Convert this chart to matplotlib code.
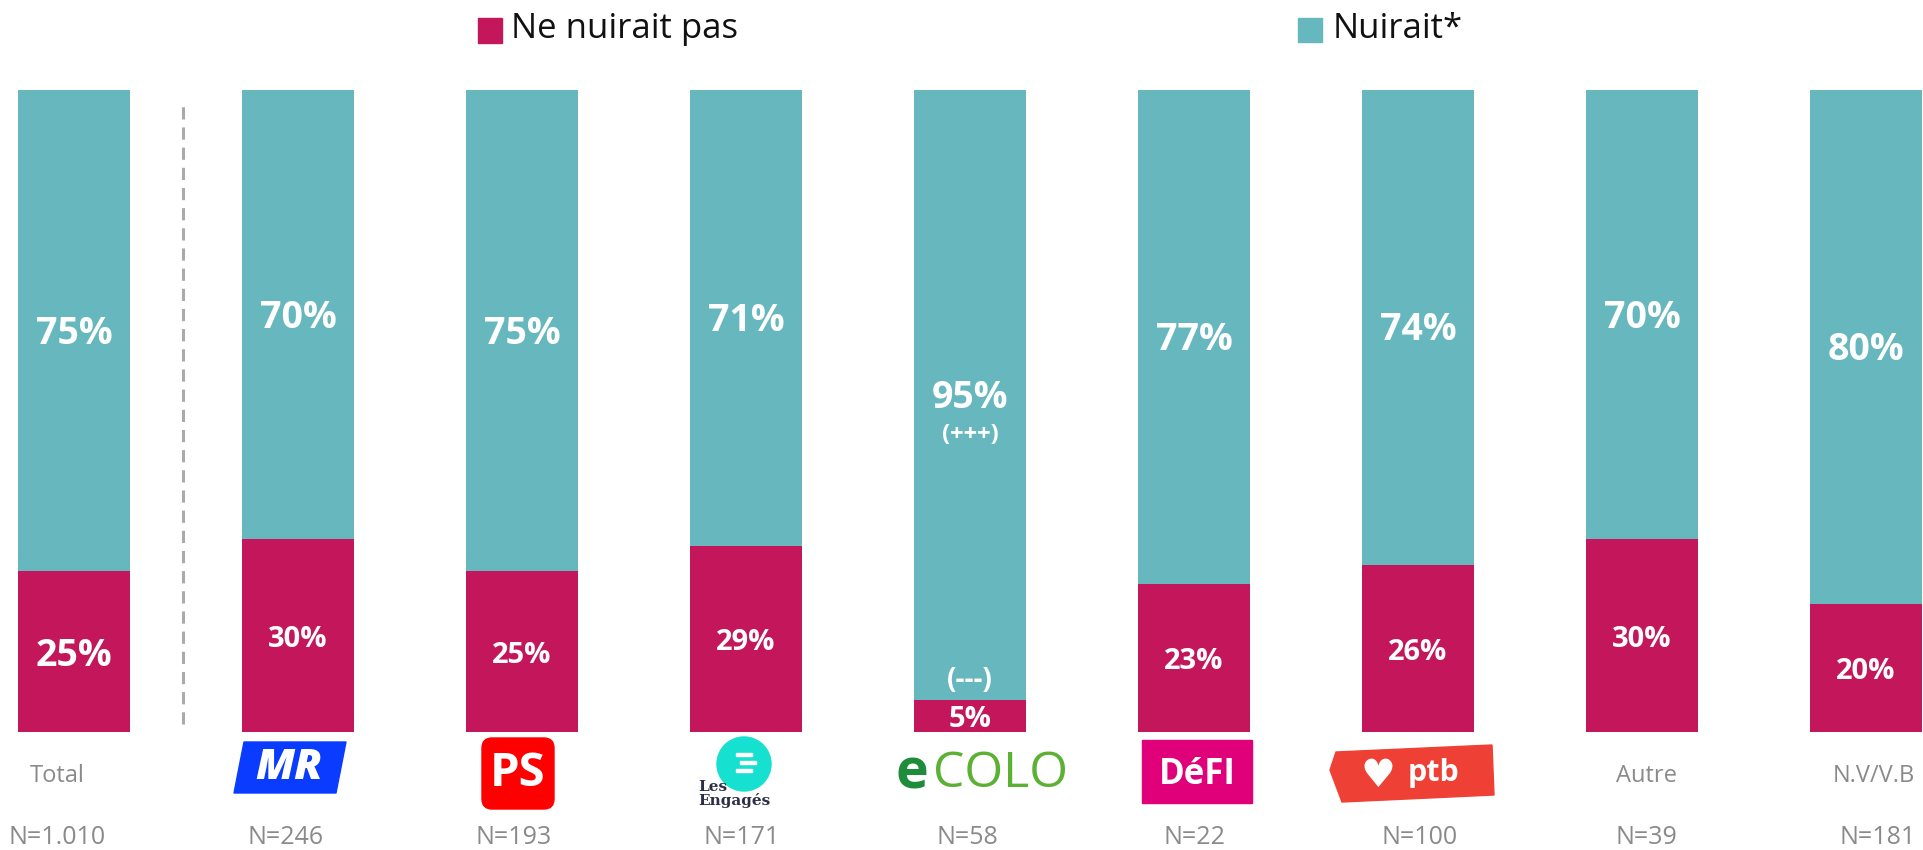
import matplotlib
matplotlib.use("Agg")
import matplotlib.pyplot as plt
from matplotlib.patches import Rectangle, FancyBboxPatch, Polygon, Ellipse
import numpy as np

plt.rcParams['font.family'] = ['Open Sans', 'DejaVu Sans']

# données
categories = ['Total', 'MR', 'PS', 'Les Engagés', 'Ecolo', 'DéFI', 'PTB', 'Autre', 'N.V/V.B']
n_labels = ['N=1.010', 'N=246', 'N=193', 'N=171', 'N=58', 'N=22', 'N=100', 'N=39', 'N=181']
ne_nuirait_pas = [25, 30, 25, 29, 5, 23, 26, 30, 20]
nuirait = [75, 70, 75, 71, 95, 77, 74, 70, 80]

MAGENTA = '#C4165A'
TEAL = '#67B8BE'
GRIS = '#8A8A8A'

W, H = 1923, 850
fig = plt.figure(figsize=(W / 100, H / 100), dpi=100)

# axe principal : barres empilées (1 unité x = 224 px, 100% = 642.5 px)
ax = fig.add_axes([0, 118 / H, 1, 642.5 / H])
x = np.arange(len(categories))
ax.bar(x, ne_nuirait_pas, width=0.496, color=MAGENTA)
ax.bar(x, nuirait, width=0.496, bottom=ne_nuirait_pas, color=TEAL)
ax.set_xlim(-74 / 224, (W - 74) / 224)
ax.set_ylim(0, 100)
ax.axis('off')

# séparateur Total / partis
ax.axvline(0.487, ymin=0.012, ymax=0.984, color='#AAAAAA', lw=2.2,
           linestyle=(0, (4, 2.6)))

# étiquettes de valeurs
for i, (a, b) in enumerate(zip(ne_nuirait_pas, nuirait)):
    size_a = 27 if i == 0 else 21
    ax.text(i, a + b / 2 - 0.5, f'{b}%', ha='center', va='center', color='white',
            fontsize=27, fontweight='bold')
    ax.text(i, a / 2 - 0.6, f'{a}%', ha='center', va='center', color='white',
            fontsize=size_a, fontweight='bold')

# signes de significativité (Ecolo)
i_eco = categories.index('Ecolo')
ax.text(i_eco, ne_nuirait_pas[i_eco] + nuirait[i_eco] / 2 - 6.3, '(+++)', ha='center',
        va='center', color='white', fontsize=17, fontweight='bold')
ax.text(i_eco, ne_nuirait_pas[i_eco] + 3.0, '(---)', ha='center', va='center',
        color='white', fontsize=20, fontweight='bold')

# calque en pixels (origine en haut à gauche) pour légende, logos et effectifs
ov = fig.add_axes([0, 0, 1, 1])
ov.set_xlim(0, W)
ov.set_ylim(H, 0)
ov.axis('off')


def bar_px(i):
    return ax.transData.transform((i, 0))[0]


# légende
ov.add_patch(Rectangle((478, 18), 24, 25, color=MAGENTA))
ov.text(511, 29, 'Ne nuirait pas', fontsize=25, va='center', color='#111111')
ov.add_patch(Rectangle((1298, 18), 24, 24, color=TEAL))
ov.text(1333, 29, 'Nuirait*', fontsize=25, va='center', color='#111111')

# effectifs
n_shift = [-17, -12, -8, -4, -3, 0, 2, 4, 12]
for i, lab in enumerate(n_labels):
    ov.text(bar_px(i) + n_shift[i], 838, lab, ha='center', va='center',
            fontsize=18, color=GRIS)

# libellés texte
ov.text(bar_px(0) - 17, 776, 'Total', ha='center', va='center', fontsize=17, color=GRIS)
ov.text(bar_px(7) + 4, 776, 'Autre', ha='center', va='center', fontsize=17, color=GRIS)
ov.text(bar_px(8) + 8, 776, 'N.V/V.B', ha='center', va='center', fontsize=17, color=GRIS)

# logo MR
c = bar_px(1) - 8
ov.add_patch(Polygon([(c - 46, 742), (c + 56, 742), (c + 46, 793), (c - 56, 793)],
                     closed=True, color='#0A3CFF', joinstyle='round'))
ov.text(c - 1, 768, 'MR', ha='center', va='center', fontsize=31, color='white',
        fontweight='heavy', fontstyle='italic')

# logo PS
c = bar_px(2) - 4
ov.add_patch(FancyBboxPatch((c - 30, 744), 60, 59, boxstyle='round,pad=6,rounding_size=10',
                            color='#FF0000'))
ov.text(c, 773, 'PS', ha='center', va='center', fontsize=34, color='white',
        fontweight='bold')

# logo Les Engagés
c = bar_px(3) - 2
ov.add_patch(Ellipse((c, 764), 54, 54, color='#16E0CF'))
for k, dy in enumerate([-8, 0, 8]):
    ov.add_patch(Rectangle((c - 8 + (4 if k == 1 else 0), 762 + dy - 1.5), 16, 3,
                           color='white'))
ov.text(c - 46, 794, 'Les\nEngagés', ha='left', va='center', fontsize=11,
        color='#2A2F45', fontweight='bold', family=['DejaVu Serif'], linespacing=0.95)

# logo Ecolo
c = bar_px(4) + 8
ov.text(c - 66, 774, 'e', ha='center', va='center', fontsize=40, color='#1E8C3A',
        fontweight='bold')
ov.text(c + 22, 774, 'COLO', ha='center', va='center', fontsize=36, color='#5CB135')

# logo DéFI
c = bar_px(5) + 3
ov.add_patch(Rectangle((c - 55, 740), 110, 63, color='#E0007A'))
ov.text(c, 775, 'DéFI', ha='center', va='center', fontsize=25, color='white',
        fontweight='bold')

# logo PTB
c = bar_px(6) - 6
ov.add_patch(Polygon([(c - 76, 752), (c + 80, 745), (c + 82, 795), (c - 70, 802),
                      (c - 82, 770)], closed=True, color='#EE4035'))
ov.text(c - 34, 776, '♥', ha='center', va='center', fontsize=28, color='white',
        family=['DejaVu Sans'])
ov.text(c + 22, 773, 'ptb', ha='center', va='center', fontsize=22, color='white',
        fontweight='bold')

fig.savefig('out.png', dpi=100)
